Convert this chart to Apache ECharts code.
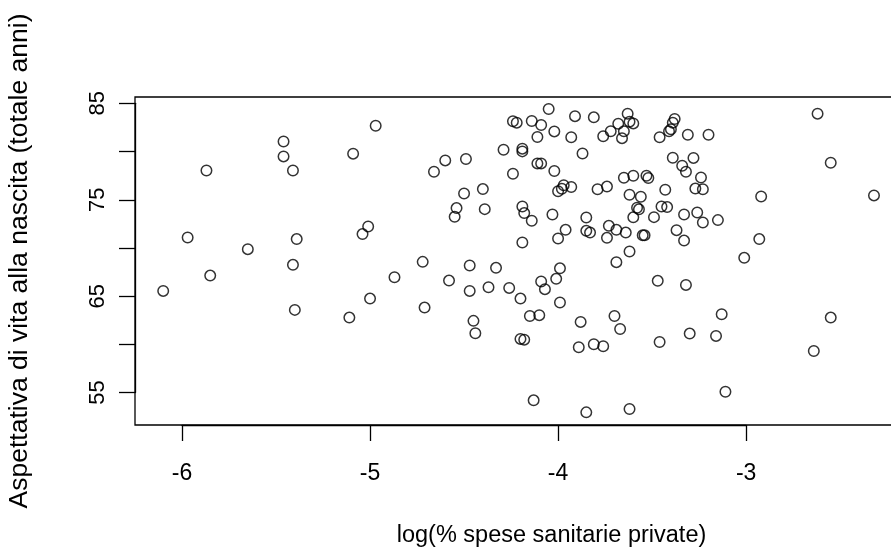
<!DOCTYPE html>
<html>
<head>
<meta charset="utf-8">
<script src="https://cdn.jsdelivr.net/npm/echarts@6/dist/echarts.min.js"></script>
<style>
  html, body { margin: 0; padding: 0; background: #fff; }
  #chart { width: 891px; height: 550px; }
</style>
</head>
<body>
<div id="chart"></div>
<script>
// valori: log(% spese sanitarie private) e aspettativa di vita
var logSpesePrivate = [
  -6.10, -5.97, -5.87, -5.85, -5.65, -5.46, -5.46, -5.41, -5.41, -5.40,
  -5.39, -5.11, -5.09, -5.04, -5.01, -5.00, -4.97, -4.87, -4.72, -4.71,
  -4.66, -4.60, -4.58, -4.55, -4.54, -4.50, -4.49, -4.47, -4.47, -4.45,
  -4.44, -4.40, -4.39, -4.37, -4.33, -4.29, -4.26, -4.24, -4.24, -4.22,
  -4.20, -4.20, -4.18, -4.19, -4.18, -4.14, -4.19, -4.19, -4.19, -4.15,
  -4.14, -4.13, -4.11, -4.11, -4.09, -4.10, -4.09, -4.09, -4.07, -4.05,
  -4.03, -4.02, -4.02, -4.01, -4.00, -4.00, -3.99, -3.99, -3.97, -3.98,
  -3.96, -3.93, -3.93, -3.91, -3.89, -3.88, -3.87, -3.85, -3.85, -3.83,
  -3.85, -3.81, -3.81, -3.79, -3.76, -3.76, -3.74, -3.74, -3.73, -3.72,
  -3.70, -3.69, -3.69, -3.68, -3.67, -3.66, -3.65, -3.64, -3.65, -3.63,
  -3.62, -3.62, -3.60, -3.60, -3.62, -3.58, -3.57, -3.60, -3.62, -3.56,
  -3.55, -3.54, -3.53, -3.52, -3.49, -3.47, -3.46, -3.46, -3.45, -3.42,
  -3.43, -3.41, -3.40, -3.39, -3.38, -3.39, -3.37, -3.34, -3.32, -3.33,
  -3.33, -3.32, -3.31, -3.30, -3.28, -3.27, -3.26, -3.24, -3.23, -3.23,
  -3.20, -3.16, -3.15, -3.13, -3.11, -3.01, -2.93, -2.92, -2.64, -2.62,
  -2.55, -2.55, -2.32
];
var aspettativaVita = [
  65.55, 71.09, 78.04, 67.14, 69.88, 81.05, 79.50, 78.04, 68.25, 63.58,
  70.92, 62.78, 79.78, 71.44, 72.23, 64.75, 82.68, 66.97, 68.56, 63.82,
  77.91, 79.08, 66.62, 73.23, 74.14, 75.65, 79.23, 68.18, 65.55, 62.44,
  61.16, 76.11, 74.03, 65.93, 67.94, 80.19, 65.86, 77.70, 83.15, 83.00,
  64.75, 60.57, 60.49, 74.30, 73.62, 72.82, 70.57, 80.30, 80.02, 62.95,
  83.17, 54.20, 81.51, 78.77, 78.77, 63.03, 66.52, 82.76, 65.73, 84.42,
  73.47, 82.09, 77.99, 66.80, 70.98, 75.88, 67.89, 64.34, 76.51, 76.14,
  71.88, 76.32, 81.49, 83.67, 59.70, 62.33, 79.80, 73.16, 71.78, 71.60,
  52.95, 83.55, 60.02, 76.09, 59.81, 81.59, 76.37, 71.05, 72.30, 82.11,
  62.95, 71.88, 68.53, 82.89, 61.60, 81.39, 82.11, 71.60, 77.28, 83.93,
  53.30, 83.10, 82.92, 77.49, 75.52, 74.17, 74.01, 73.18, 69.63, 75.31,
  71.31, 71.31, 77.49, 77.26, 73.20, 66.59, 81.49, 60.25, 74.30, 74.24,
  76.04, 82.11, 82.32, 83.00, 83.38, 79.36, 71.85, 78.53, 77.91, 70.77,
  73.47, 66.17, 81.75, 61.12, 79.34, 76.16, 73.68, 77.31, 72.64, 76.09,
  81.75, 60.88, 72.89, 63.13, 55.09, 68.98, 70.92, 75.34, 59.32, 83.93,
  78.84, 62.78, 75.45
];
var xTicks = [-6, -5, -4, -3];
var yTicks = [55, 60, 65, 70, 75, 80, 85];
var yTickLabels = ['55', '', '65', '', '75', '', '85'];
var xName = 'log(% spese sanitarie private)';
var yName = 'Aspettativa di vita alla nascita (totale anni)';

var xMin = -6.25, xMax = -1.82;
var yMin = 51.64, yMax = 85.66;
var box = { left: 135, top: 97, width: 833, height: 328 };
var font = "'Liberation Sans', Arial, sans-serif";

function pxX(v) { return box.left + (v - xMin) / (xMax - xMin) * box.width; }
function pxY(v) { return box.top + (yMax - v) / (yMax - yMin) * box.height; }

var points = logSpesePrivate.map(function (x, i) { return [x, aspettativaVita[i]]; });

// griglia degli assi "alla R": linea solo tra il primo e l'ultimo tick
var axLeft = pxX(xTicks[0]);
var axRight = pxX(xTicks[xTicks.length - 1]);
var axTop = pxY(yTicks[yTicks.length - 1]);
var axBottom = pxY(yTicks[0]);

var chart = echarts.init(document.getElementById('chart'), null, { renderer: 'canvas' });
chart.setOption({
  animation: false,
  backgroundColor: '#fff',
  textStyle: { fontFamily: font, color: '#000' },
  grid: [
    { left: box.left, top: box.top, width: box.width, height: box.height,
      outerBoundsMode: 'none', containLabel: false,
      show: true, borderColor: '#000', borderWidth: 1.3, backgroundColor: 'transparent' },
    { left: axLeft, top: axTop, width: axRight - axLeft, height: axBottom - axTop,
      outerBoundsMode: 'none', containLabel: false }
  ],
  xAxis: [
    { gridIndex: 0, type: 'value', min: xMin, max: xMax,
      name: xName, nameLocation: 'middle', nameGap: 99,
      nameTextStyle: { fontSize: 23.5, fontFamily: font, color: '#000' },
      axisLine: { show: false }, axisTick: { show: false },
      axisLabel: { show: false }, splitLine: { show: false } },
    { gridIndex: 1, type: 'value', min: xTicks[0], max: xTicks[xTicks.length - 1], interval: 1,
      position: 'bottom', offset: box.top + box.height - axBottom,
      axisLine: { show: true, lineStyle: { color: '#000', width: 1.3 } },
      axisTick: { show: true, inside: false, length: 16, lineStyle: { color: '#000', width: 1.3 } },
      axisLabel: { show: true, margin: 37, fontSize: 23, fontFamily: font, color: '#000',
        formatter: function (v) { return xTicks.indexOf(v) >= 0 ? String(v) : ''; } },
      splitLine: { show: false } }
  ],
  yAxis: [
    { gridIndex: 0, type: 'value', min: yMin, max: yMax,
      name: yName, nameLocation: 'middle', nameGap: 102, nameRotate: 90,
      nameTextStyle: { fontSize: 26.5, fontFamily: font, color: '#000' },
      axisLine: { show: false }, axisTick: { show: false },
      axisLabel: { show: false }, splitLine: { show: false } },
    { gridIndex: 1, type: 'value', min: yTicks[0], max: yTicks[yTicks.length - 1], interval: 5,
      position: 'left', offset: axLeft - box.left,
      axisLine: { show: true, lineStyle: { color: '#000', width: 1.3 } },
      axisTick: { show: true, inside: false, length: 16, lineStyle: { color: '#000', width: 1.3 } },
      axisLabel: { show: true, margin: 26, rotate: 90, fontSize: 22, fontFamily: font, color: '#000',
        formatter: function (v) { var i = yTicks.indexOf(v); return i >= 0 ? yTickLabels[i] : ''; } },
      splitLine: { show: false } }
  ],
  series: [{
    type: 'scatter',
    xAxisIndex: 0, yAxisIndex: 0,
    data: points,
    symbol: 'circle',
    symbolSize: 10.5,
    silent: true,
    itemStyle: { color: 'rgba(0,0,0,0)', borderColor: '#000', borderWidth: 1.5 }
  }]
});
</script>
</body>
</html>
